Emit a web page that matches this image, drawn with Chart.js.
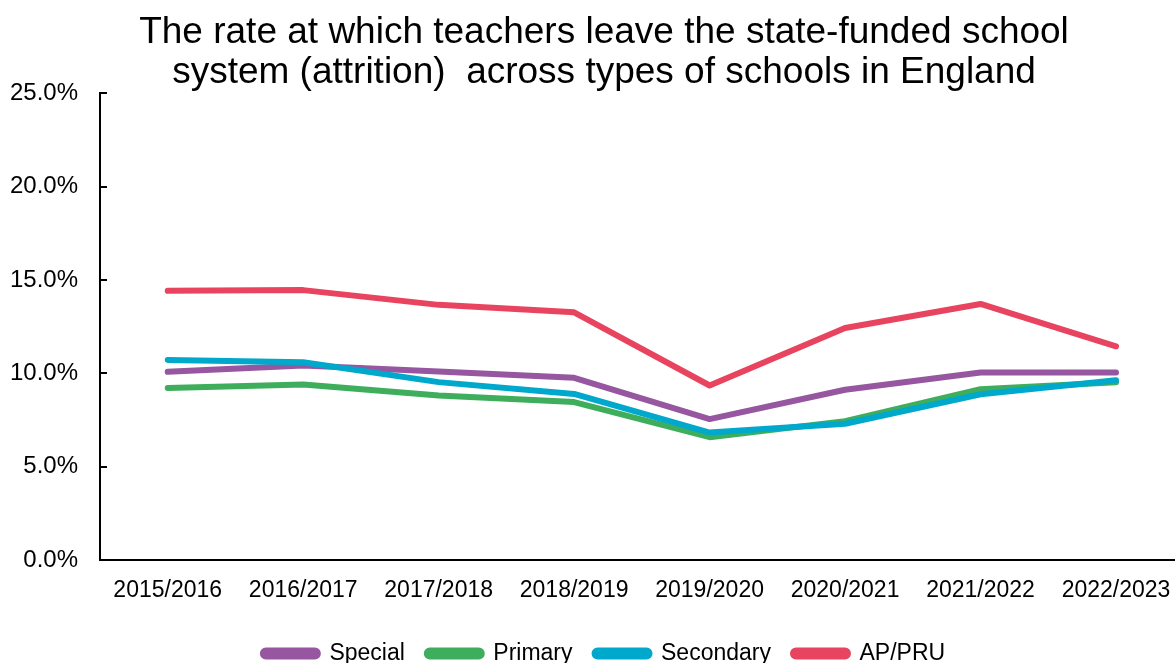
<!DOCTYPE html>
<html>
<head>
<meta charset="utf-8">
<script src="https://cdn.jsdelivr.net/npm/chart.js@4/dist/chart.umd.min.js"></script>
<style>
  html, body { margin: 0; padding: 0; background: #fff; overflow: hidden; }
  #canvas { display: block; }
</style>
</head>
<body>
<canvas id="canvas" width="1200" height="675"></canvas>
<script>
  // attrition rate (%) by school type, per academic year
  const years = ['2015/2016', '2016/2017', '2017/2018', '2018/2019', '2019/2020', '2020/2021', '2021/2022', '2022/2023'];
  const special = [10.08, 10.42, 10.10, 9.76, 7.55, 9.12, 10.05, 10.05];
  const primary = [9.22, 9.40, 8.81, 8.46, 6.58, 7.44, 9.15, 9.53];
  const secondary = [10.72, 10.60, 9.53, 8.90, 6.83, 7.30, 8.88, 9.63];
  const apPru = [14.42, 14.46, 13.67, 13.27, 9.35, 12.43, 13.72, 11.45];
  const yTicks = [0, 5, 10, 15, 20, 25];

  const font = "'Liberation Sans', Arial, sans-serif";

  function series(label, values, color, order) {
    return {
      label: label,
      data: values.map(function (v, i) { return { x: i, y: v }; }),
      borderColor: color,
      backgroundColor: color,
      borderWidth: 6,
      borderCapStyle: 'round',
      borderJoinStyle: 'round',
      pointRadius: 0,
      fill: false,
      tension: 0,
      order: order,
    };
  }

  // small tick marks on the inside of the value axis
  const innerTicks = {
    id: 'innerTicks',
    afterDraw(chart) {
      const y = chart.scales.y;
      const left = chart.chartArea.left;
      const ctx = chart.ctx;
      ctx.save();
      ctx.strokeStyle = '#000';
      ctx.lineWidth = 2;
      yTicks.forEach(function (v) {
        const py = Math.round(y.getPixelForValue(v));
        ctx.beginPath();
        ctx.moveTo(left - 1, py);
        ctx.lineTo(left + 7, py);
        ctx.stroke();
      });
      ctx.restore();
    },
  };

  const canvas = document.getElementById('canvas');
  const chart = new Chart(canvas, {
    type: 'line',
    data: {
      datasets: [
        series('Special', special, '#9657A0', 4),
        series('Primary', primary, '#3EAE5C', 3),
        series('Secondary', secondary, '#00A9CC', 2),
        series('AP/PRU', apPru, '#E9445F', 1),
      ],
    },
    options: {
      responsive: false,
      animation: false,
      layout: { padding: { left: 8, right: 0, top: 0, bottom: 0 } },
      plugins: {
        title: {
          display: true,
          text: ['The rate at which teachers leave the state-funded school', 'system (attrition)  across types of schools in England'],
          color: '#000',
          font: { family: font, size: 37, weight: 'normal', lineHeight: 1.1 },
          padding: { top: 12, bottom: 0 },
        },
        legend: {
          position: 'bottom',
          labels: {
            color: '#000',
            font: { family: font, size: 23 },
            boxWidth: 55,
            boxHeight: 6,
            useBorderRadius: true,
            borderRadius: 3,
            padding: 22,
            sort: function (a, b) { return a.datasetIndex - b.datasetIndex; },
          },
        },
        tooltip: { enabled: false },
      },
      scales: {
        x: {
          type: 'linear',
          // half a slot before the first year; the axis runs on to the page edge
          min: -0.5,
          max: 7.62,
          grid: { display: false, drawTicks: false },
          border: { display: true, color: '#000', width: 2 },
          ticks: {
            color: '#000',
            font: { family: font, size: 23 },
            padding: 17,
            maxRotation: 0,
            autoSkip: false,
            callback: function (value) { return years[value] || ''; },
          },
          // one tick per academic year
          afterBuildTicks: function (scale) {
            scale.ticks = years.map(function (_, i) { return { value: i }; });
          },
          afterFit: function (scale) { scale.height = 60; },
        },
        y: {
          min: 0,
          max: 25,
          grid: { display: false, drawTicks: false },
          border: { display: true, color: '#000', width: 2 },
          ticks: {
            stepSize: 5,
            color: '#000',
            font: { family: font, size: 24 },
            padding: 22,
            callback: function (value) { return value.toFixed(1) + '%'; },
          },
          afterFit: function (scale) { scale.width = 92; },
        },
      },
    },
    plugins: [innerTicks],
  });
</script>
</body>
</html>
